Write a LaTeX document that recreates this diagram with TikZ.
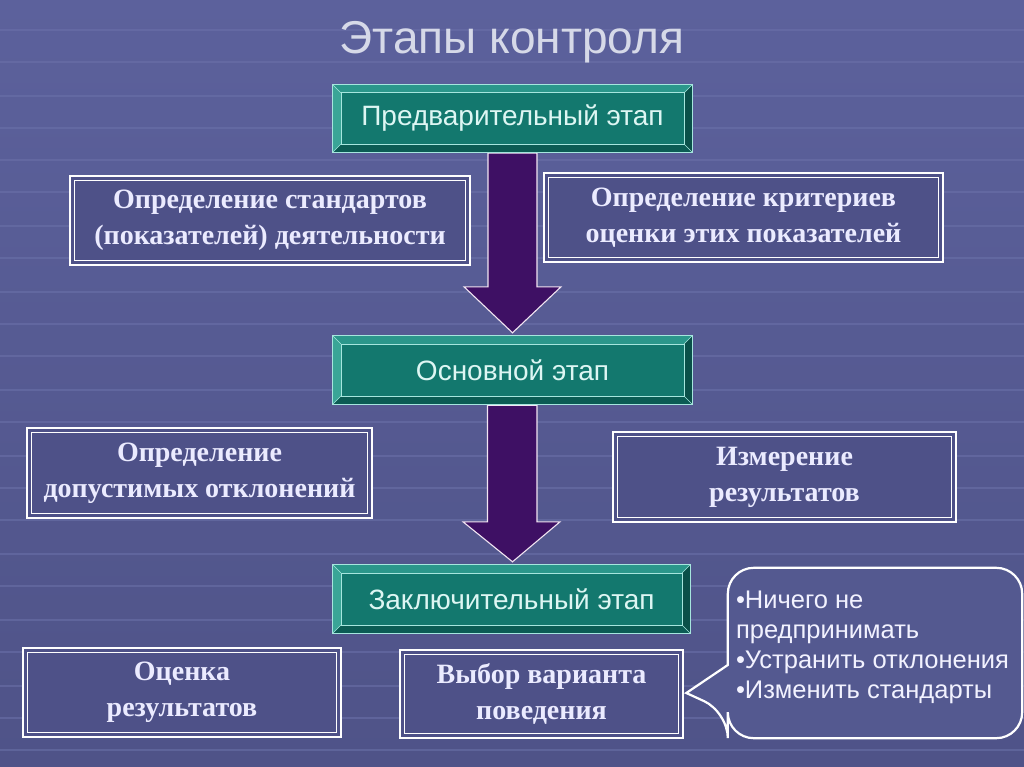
\documentclass[tikz,border=0pt]{standalone}
\usepackage{fontspec}
\setmainfont{Liberation Serif}
\setsansfont{Liberation Sans}
\usetikzlibrary{calc}
\definecolor{bgtop}{HTML}{5C619C}
\definecolor{bgbot}{HTML}{4F5388}
\definecolor{gridc}{HTML}{6C72AA}
\definecolor{boxfill}{HTML}{4E5188}
\definecolor{tealface}{HTML}{13786E}
\definecolor{tealtop}{HTML}{2B978B}
\definecolor{tealleft}{HTML}{3AA597}
\definecolor{tealbot}{HTML}{0B5C54}
\definecolor{tealright}{HTML}{0A5049}
\definecolor{tealedge}{HTML}{A6E6DE}
\definecolor{tealtext}{HTML}{DDF6F3}
\definecolor{arrowfill}{HTML}{3E1064}
\definecolor{titlec}{HTML}{D6D9E8}
\tikzset{
  stage/.style={rectangle, fill=tealface, inner sep=0pt, minimum width=359pt, minimum height=68pt,
    text=tealtext, font=\sffamily\fontsize{28}{32}\selectfont},
  sbox/.style={rectangle, fill=boxfill, draw=white, line width=2.6pt, inner sep=0pt,
    align=center, text=white!92!blue, font=\bfseries\fontsize{28}{36}\selectfont},
  arrowst/.style={fill=arrowfill, draw=white!90!violet, line width=1.1pt, line join=miter},
  callline/.style={draw=white, line width=2.2pt, fill=bgbot!60!bgtop},
  calltext/.style={inner sep=0pt, align=left, text=white!95!blue, font=\sffamily\fontsize{25.5}{30}\selectfont},
  gridl/.style={draw=gridc, line width=1.6pt, opacity=0.55},
}
\newcommand\stagebevel[1]{%
  \fill[tealtop] (#1.north west) -- (#1.north east) -- ($(#1.north east)+(-8,8)$) -- ($(#1.north west)+(8,8)$) -- cycle;
  \fill[tealleft] (#1.north west) -- ($(#1.north west)+(8,8)$) -- ($(#1.south west)+(8,-8)$) -- (#1.south west) -- cycle;
  \fill[tealbot] (#1.south west) -- ($(#1.south west)+(8,-8)$) -- ($(#1.south east)+(-8,-8)$) -- (#1.south east) -- cycle;
  \fill[tealright] (#1.north east) -- (#1.south east) -- ($(#1.south east)+(-8,-8)$) -- ($(#1.north east)+(-8,8)$) -- cycle;
  \draw[tealedge, line width=1pt] (#1.north west) rectangle (#1.south east);
  \draw[tealedge, line width=0.6pt] ($(#1.north west)+(8,8)$) rectangle ($(#1.south east)+(-8,-8)$);
  \draw[tealedge, line width=0.6pt] (#1.north west) -- ($(#1.north west)+(8,8)$)
    (#1.north east) -- ($(#1.north east)+(-8,8)$)
    (#1.south west) -- ($(#1.south west)+(8,-8)$)
    (#1.south east) -- ($(#1.south east)+(-8,-8)$);
}
\newcommand\innerframe[1]{%
  \draw[white, line width=1.3pt] ($(#1.north west)+(6,6)$) rectangle ($(#1.south east)+(-6,-6)$);
}
\begin{document}
\begin{tikzpicture}[x=1pt,y=-1pt]
\useasboundingbox (0,0) rectangle (1024,767);
\shade[top color=bgtop, bottom color=bgbot] (0,0) rectangle (1024,767);
\foreach \yy in {30,62,96,128,160,192,226,258,292,324,356,390,422,456,488,520,554,586,620,652,686,718,750}
  \draw[gridl] (0,\yy) -- (1024,\yy);

% title
\node[text=titlec, font=\sffamily\fontsize{46}{50}\selectfont] (title) at (512,42) {Этапы контроля};

% stages
\node[stage, minimum height=67pt] (s1) at (512.5,118.5) {Предварительный этап};
\node[stage] (s2) at (512.5,370) {Основной этап};
\node[stage, minimum width=357pt] (s3) at (511.5,599) {Заключительный этап};

% text boxes
\node[sbox, minimum width=400pt, minimum height=89pt] (b1) at (270,220.5) {Определение стандартов\\(показателей) деятельности};
\node[sbox, minimum width=399pt, minimum height=89pt] (b2) at (743.5,217.5) {Определение критериев\\оценки этих показателей};
\node[sbox, minimum width=345pt, minimum height=90pt] (b3) at (199.5,473) {Определение\\допустимых отклонений};
\node[sbox, minimum width=343pt, minimum height=90pt] (b4) at (784.5,477) {Измерение\\результатов};
\node[sbox, minimum width=318pt, minimum height=89pt] (b5) at (182,692.5) {Оценка\\результатов};
\node[sbox, minimum width=283pt, minimum height=88pt] (b6) at (541.5,694) {Выбор варианта\\поведения};
\foreach \b in {b1,b2,b3,b4,b5,b6} {\innerframe{\b}}

% arrows
\draw[arrowst] ($(s1.south)+(-24.5,1)$) -- ($(s1.south)+(24.5,1)$) -- ($(s2.north)+(24.5,-49)$)
  -- ($(s2.north)+(48.5,-49)$) -- ($(s2.north)+(0,-3)$) -- ($(s2.north)+(-48.5,-49)$)
  -- ($(s2.north)+(-24.5,-49)$) -- cycle;
\draw[arrowst] ($(s2.south)+(-25,1)$) -- ($(s2.south)+(24.5,1)$) -- ($(s3.north)+(25.5,-43)$)
  -- ($(s3.north)+(48.5,-43)$) -- ($(s3.north)+(1,-3)$) -- ($(s3.north)+(-48.5,-43)$)
  -- ($(s3.north)+(-24,-43)$) -- cycle;

\stagebevel{s1}
\stagebevel{s2}
\stagebevel{s3}

% callout
\node[rectangle, minimum width=294pt, minimum height=170pt, inner sep=0pt] (c) at (875,653) {};
\coordinate (tip) at ($(b6.east)+(2,-1)$);
\draw[callline, rounded corners=26pt] ($(c.west)+(0,12)$) -- (c.north west) -- (c.north east)
  -- (c.south east) -- (c.south west) -- ($(c.west)+(0,59)$) [sharp corners] -- (tip) -- cycle;
\node[calltext, anchor=west] (ct) at ($(c.west)+(8,-6)$) {•Ничего не\\предпринимать\\•Устранить отклонения\\•Изменить стандарты};
\end{tikzpicture}
\end{document}
